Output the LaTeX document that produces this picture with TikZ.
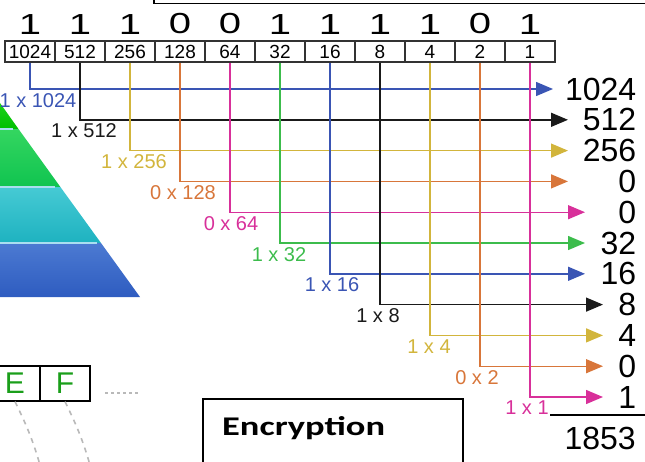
\documentclass[tikz,border=0pt]{standalone}
\usepackage{fontspec}
\setmainfont{Liberation Sans}
\newfontfamily\bitfont[FakeStretch=1.38]{Liberation Sans}
\newfontfamily\slidefont[FakeStretch=1.35]{Carlito}
\usetikzlibrary{arrows.meta,positioning}

% one colour per place value
\definecolor{wblue}{HTML}{3A55B4}
\definecolor{wblack}{HTML}{1A1A1A}
\definecolor{wyellow}{HTML}{D2B53C}
\definecolor{worange}{HTML}{D8763A}
\definecolor{wmagenta}{HTML}{D8309A}
\definecolor{wgreen}{HTML}{3CBC4C}
\definecolor{letgreen}{HTML}{1A9E1A}

\begin{document}
\begin{tikzpicture}[
    x=1pt, y=-1pt,
    cellbox/.style={draw=black!80, line width=1.1pt, minimum width=50pt, minimum height=21pt, inner sep=0pt, font=\fontsize{19}{19}\selectfont},
    bitdigit/.style={inner sep=0pt, font=\bitfont\fontsize{29}{29}\selectfont},
    prodlabel/.style={inner sep=0pt, anchor=north, font=\fontsize{20}{20}\selectfont},
    valnode/.style={inner sep=0pt, anchor=west, align=right, font=\fontsize{32}{32}\selectfont},
    wirearrow/.style={line width=1.4pt, -{Triangle[length=17pt, width=14pt]}},
    lettercell/.style={draw, line width=1.3pt, minimum width=50pt, minimum height=35pt, inner sep=0pt, text=letgreen, font=\fontsize{30}{30}\selectfont},
  ]
  \useasboundingbox (0,0) rectangle (645,461);
  \clip (0,0) rectangle (645,461);

  % frame above the bits
  \draw[line width=1.4pt] (154,-10) rectangle (700,3.5);

  % pyramid bands
  \shade[top color=green!80!black!90, bottom color=green!75!black] (0,103) -- (18.5,129) -- (0,129) -- cycle;
  \shade[top color={rgb,255:red,52;green,214;blue,96}, bottom color={rgb,255:red,16;green,196;blue,80}] (0,129) -- (18.5,129) -- (60.4,187) -- (0,187) -- cycle;
  \shade[top color={rgb,255:red,70;green,202;blue,212}, bottom color={rgb,255:red,30;green,178;blue,192}] (0,187) -- (60.4,187) -- (101,243) -- (0,243) -- cycle;
  \shade[top color={rgb,255:red,76;green,122;blue,210}, bottom color={rgb,255:red,46;green,92;blue,192}] (0,243) -- (101,243) -- (140,297) -- (0,297) -- cycle;
  \foreach \y/\xe in {129/13, 187/55, 243/97}
    \draw[line width=1.5pt, color={rgb,255:red,170;green,222;blue,240}] (0,\y) -- (\xe,\y);

  % place values, bits and products
  \foreach \w/\b/\v/\tip/\dx/\col [count=\i from 0] in {
      1024/1/1024/553/8/wblue, 512/1/512/568/4/wblack, 256/1/256/568/4/wyellow,
      128/0/0/568/3/worange, 64/0/0/585/1/wmagenta, 32/1/32/585/-1/wgreen,
      16/1/16/585/2/wblue, 8/1/8/603/-2/wblack, 4/1/4/603/-1/wyellow,
      2/0/0/603/-3/worange, 1/1/1/603/-3/wmagenta} {
    \pgfmathsetmacro\vw{636-\tip}
    \node[cellbox] (c\i) at (30+50*\i, 51.5) {\w};
    \node[bitdigit, above=6pt of c\i] (b\i) {\b};
    \node[valnode, text width=\vw pt] (v\i) at (\tip, 89+30.8*\i) {\v};
    \draw[wirearrow, \col] (c\i.south) |- (v\i.west);
    \node[prodlabel, text=\col, xshift=\dx pt, yshift=-4pt] (p\i) at (c\i.south |- v\i.west) {\b\ x \w};
  }

  % total
  \draw[line width=1.6pt] (550,415) -- (650,415);
  \node[valnode, anchor=east] (total) at (636,438) {1853};

  % letter cells
  \node[lettercell] (cE) at (15,383.5) {E};
  \node[lettercell] (cF) at (65,383.5) {F};
  \coordinate (dotsA) at (105,393);
  \coordinate (dotsB) at (140,393);
  \draw[gray!55, line width=2pt, dash pattern=on 3pt off 3pt] (dotsA) -- (dotsB);
  \coordinate (eEnd) at (44,480);
  \coordinate (fEnd) at (94,480);
  \draw[gray!55, line width=1.6pt, dash pattern=on 5pt off 5pt] (cE.south) to[bend left=6] (eEnd);
  \draw[gray!55, line width=1.6pt, dash pattern=on 5pt off 5pt] (cF.south) to[bend left=6] (fEnd);

  % encryption box
  \draw[line width=1.2pt] (203,399) rectangle (463,490);
  \node[anchor=west, inner sep=0pt, font=\slidefont\bfseries\fontsize{27}{27}\selectfont] (enc) at (222,428) {Encryption};
\end{tikzpicture}
\end{document}
